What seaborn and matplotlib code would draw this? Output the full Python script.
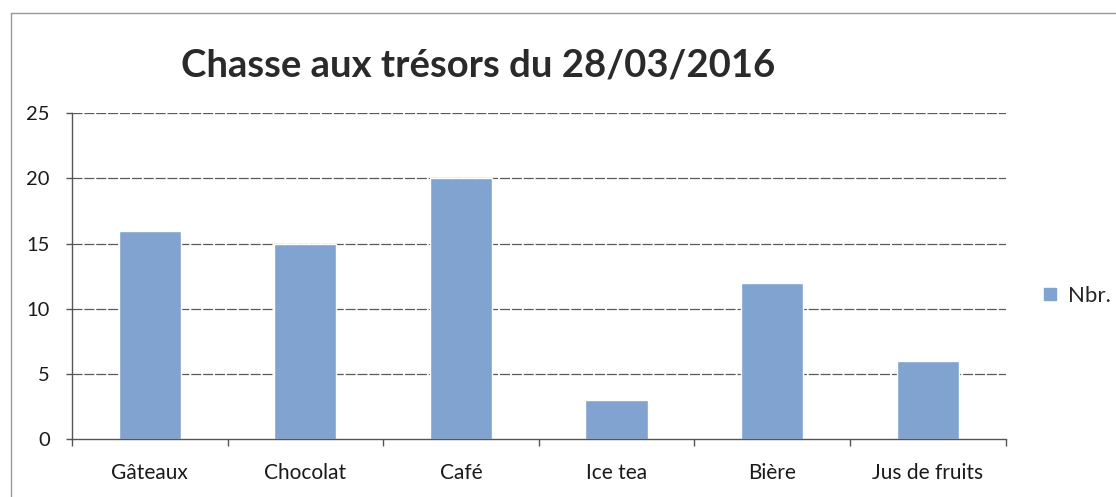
import matplotlib
matplotlib.use("Agg")
import matplotlib.pyplot as plt
import seaborn as sns
import pandas as pd
from matplotlib.lines import Line2D

categories = ["Gâteaux", "Chocolat", "Café", "Ice tea", "Bière", "Jus de fruits"]
values = [16, 15, 20, 3, 12, 6]
series_name = "Nbr."
title = "Chasse aux trésors du 28/03/2016"
y_ticks = [0, 5, 10, 15, 20, 25]

sns.set_theme(style="white")
plt.rcParams["font.family"] = ["Lato", "DejaVu Sans"]

df = pd.DataFrame({"cat": categories, "val": values, "serie": [series_name] * len(categories)})

fig = plt.figure(figsize=(11.16, 4.97), dpi=100)
ax = fig.add_axes([0.0645, 0.1157, 0.8365, 0.6569])

bar_color = "#80a3cf"
sns.barplot(data=df, x="cat", y="val", hue="serie", palette=[bar_color],
            width=0.4, dodge=False, ax=ax, saturation=1, legend=False)

ax.set_xlim(-0.5, len(categories) - 0.5)
ax.set_ylim(0, 25)
ax.set_yticks(y_ticks)
ax.set_xlabel("")
ax.set_ylabel("")

# Gridlines
for y in y_ticks[1:]:
    ax.axhline(y, color="#5a5a5a", lw=0.9, ls=(0, (8, 1.5)), zorder=0)
ax.set_axisbelow(True)

# Spines
for s in ["top", "right"]:
    ax.spines[s].set_visible(False)
ax.spines["left"].set_color("#555555")
ax.spines["left"].set_linewidth(1.0)
ax.spines["bottom"].set_color("#555555")
ax.spines["bottom"].set_linewidth(1.0)

# Ticks: x ticks at category boundaries (major, no labels), labels via minor
ax.set_xticks([i + 0.5 for i in range(-1, len(categories))])
ax.set_xticklabels([])
ax.set_xticks(range(len(categories)), minor=True)
ax.set_xticklabels(categories, minor=True, fontsize=15, color="#1a1a1a")
ax.tick_params(axis="x", which="major", direction="out", length=5, width=1, color="#555555", bottom=True)
ax.tick_params(axis="x", which="minor", length=0, pad=17)
ax.tick_params(axis="y", direction="out", length=4, width=1, color="#555555", left=True,
               labelsize=14.5, labelcolor="#1a1a1a", pad=12)

# Title
fig.text(0.428, 0.869, title, ha="center", va="center", fontsize=27.5, fontweight="bold", color="#2a2a2a")

# Legend
handle = Line2D([], [], marker="s", color="none", markerfacecolor=bar_color,
                markeredgecolor=bar_color, markersize=8)
fig.legend([handle], [series_name], loc="center left", bbox_to_anchor=(0.925, 0.405),
           frameon=False, fontsize=16, handlelength=0.8, handletextpad=0.4, borderaxespad=0)

# Chart frame (top and left edges)
fig.add_artist(Line2D([0.0099, 1.0], [0.974, 0.974], color="#9a9a90", lw=1.0, transform=fig.transFigure))
fig.add_artist(Line2D([0.0099, 0.0099], [0.0, 0.974], color="#9a9a90", lw=1.0, transform=fig.transFigure))

fig.savefig("out.png", dpi=100, facecolor="white")
